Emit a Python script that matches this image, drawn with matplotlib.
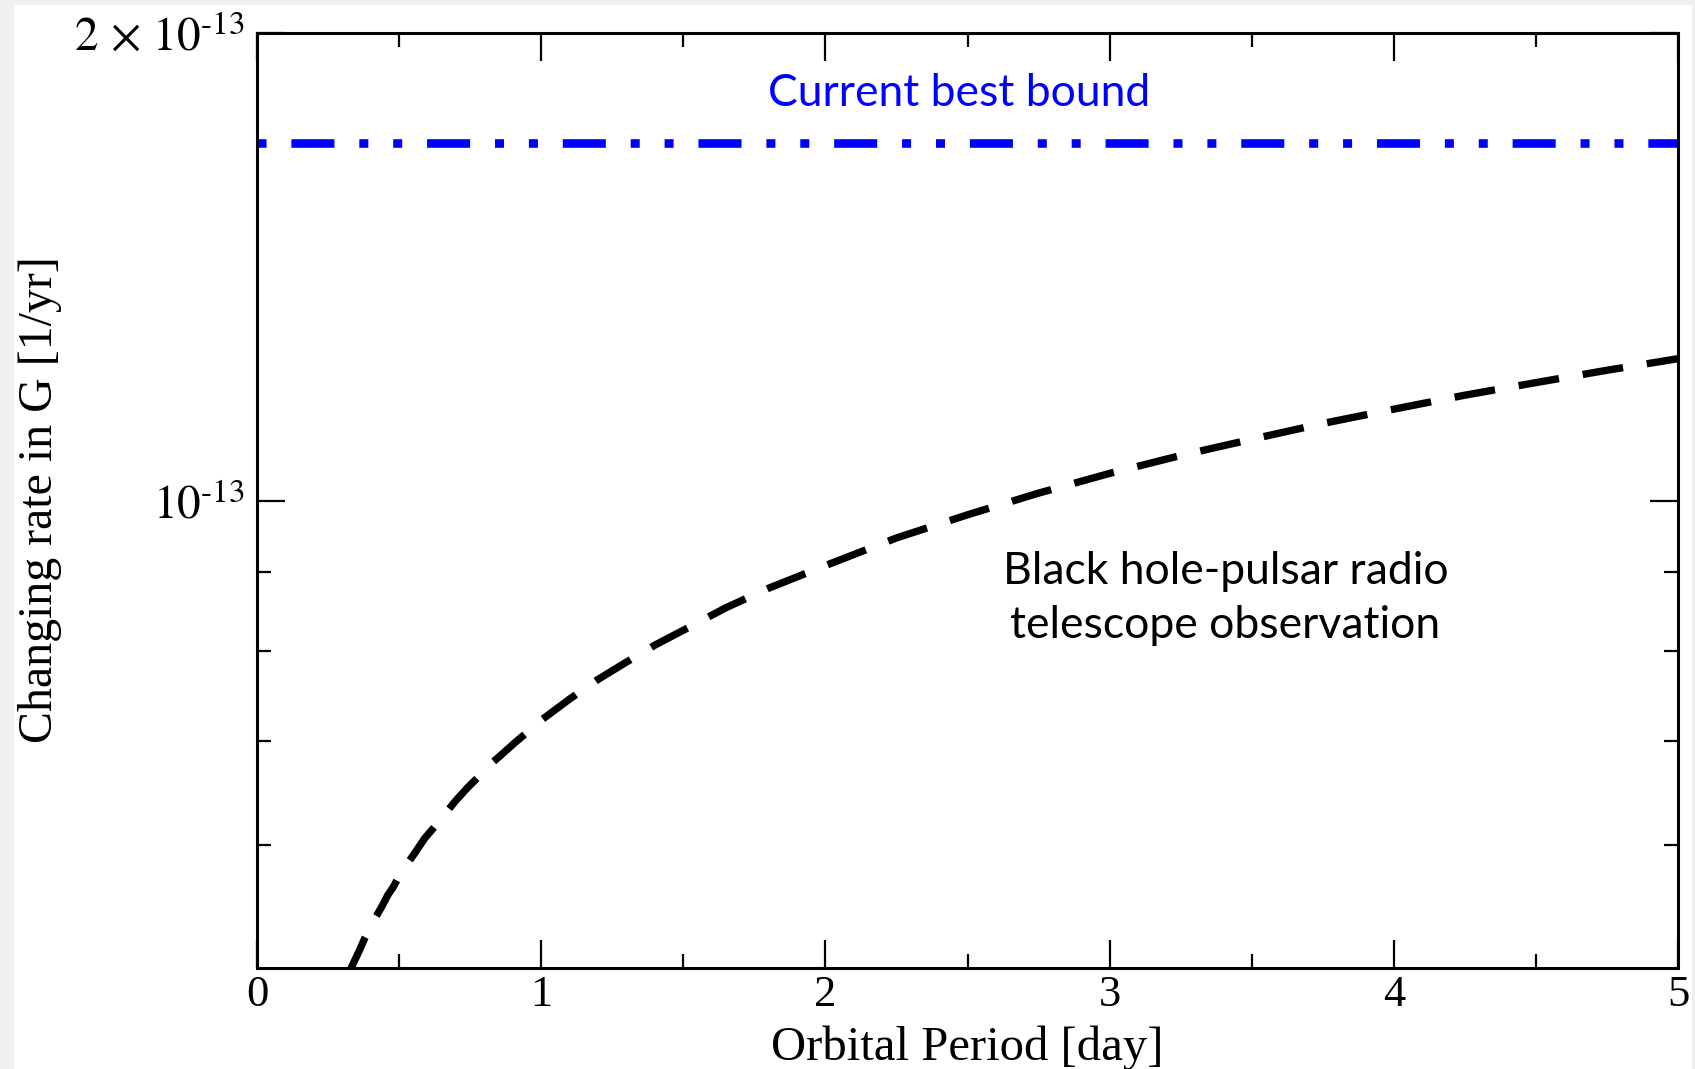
import matplotlib
matplotlib.use('Agg')
import matplotlib.pyplot as plt
from matplotlib.patches import Rectangle
from matplotlib.ticker import NullFormatter

# black hole - pulsar bound on dG/dt vs orbital period
# values
period = [0.327, 0.34, 0.36, 0.38, 0.40, 0.42, 0.44, 0.46, 0.48, 0.50,
          0.53, 0.55, 0.59, 0.62, 0.66, 0.70, 0.74, 0.78, 0.82, 0.86,
          0.91, 0.95, 1.00, 1.10, 1.20, 1.30, 1.40, 1.50, 1.65, 1.80,
          2.00, 2.25, 2.50, 2.75, 3.00, 3.25, 3.50, 3.75, 4.00, 4.25,
          4.50, 4.75, 5.00]
gdot = [4.98e-14, 5.04e-14, 5.13e-14, 5.23e-14, 5.32e-14, 5.40e-14,
        5.48e-14, 5.57e-14, 5.64e-14, 5.73e-14, 5.84e-14, 5.91e-14,
        6.06e-14, 6.15e-14, 6.28e-14, 6.41e-14, 6.53e-14, 6.64e-14,
        6.76e-14, 6.86e-14, 6.99e-14, 7.09e-14, 7.22e-14, 7.45e-14,
        7.67e-14, 7.87e-14, 8.07e-14, 8.25e-14, 8.53e-14, 8.78e-14,
        9.08e-14, 9.46e-14, 9.79e-14, 1.011e-13, 1.041e-13, 1.069e-13,
        1.095e-13, 1.121e-13, 1.145e-13, 1.169e-13, 1.191e-13, 1.213e-13,
        1.234e-13]

best_x = [0.0, 5.0]
best_y = [1.70e-13, 1.70e-13]

xticks = [0, 1, 2, 3, 4, 5]
xminor = [0.5, 1.5, 2.5, 3.5, 4.5]
yticks = [1e-13, 2e-13]
ylabels = [r'$10^{\text{-13}}$', r'$2\,\times\,10^{\text{-13}}$']
yminor = [6e-14, 7e-14, 8e-14, 9e-14]

plt.rcParams['lines.scale_dashes'] = False
plt.rcParams['mathtext.fontset'] = 'stix'
serif = 'Liberation Serif'
sans = 'Lato'

fig = plt.figure(figsize=(16.95, 10.69), dpi=100)
fig.patch.set_facecolor('#f0f0f0')
# white sheet with a thin grey margin, as in the original
fig.patches.append(Rectangle((14/1695, 0), (1692-14)/1695, 1-5/1069,
                             transform=fig.transFigure, facecolor='white',
                             edgecolor='none', zorder=-5))

ax = fig.add_axes([257/1695, 101/1069, 1421/1695, 935/1069])
ax.set_yscale('log')
ax.patch.set_alpha(0)

ax.plot(best_x, best_y, color='#0000ff', lw=6.2,
        linestyle=(0, (6.5, 17.9, 31, 17.9, 6.5, 17.9)), dash_capstyle='butt')
ax.plot(period, gdot, color='black', lw=5.3,
        linestyle=(3, (29.5, 17.3)), dash_capstyle='butt')

ax.set_xlim(0, 5)
ax.set_ylim(5e-14, 2e-13)

ax.set_xticks(xticks)
ax.set_xticklabels([str(t) for t in xticks])
ax.set_xticks(xminor, minor=True)
ax.set_yticks(yticks)
ax.set_yticklabels(ylabels)
ax.set_yticks(yminor, minor=True)
ax.yaxis.set_minor_formatter(NullFormatter())

ax.tick_params(which='both', direction='in', top=True, right=True, width=1.6)
ax.tick_params(which='major', length=20)
ax.tick_params(which='minor', length=10)
ax.tick_params(axis='x', which='major', labelsize=32, pad=5)
ax.tick_params(axis='y', which='major', labelsize=34, pad=9)
for lab in ax.get_xticklabels():
    lab.set_fontfamily(serif)
for s in ax.spines.values():
    s.set_linewidth(2.2)

ax.set_xlabel('Orbital Period [day]', fontsize=35, family=serif)
ax.set_ylabel('Changing rate in G [1/yr]', fontsize=34.5, family=serif)
ax.xaxis.set_label_coords(0.5, -0.061)
ax.yaxis.set_label_coords(-0.137, 0.501)

ax.text(0.494, 0.922, 'Current best bound', transform=ax.transAxes,
        color='#0000ff', fontsize=32, family=sans, ha='center', va='baseline')
ax.text(0.6815, 0.353, 'Black hole-pulsar radio\ntelescope observation',
        transform=ax.transAxes, color='black', fontsize=32, family=sans,
        ha='center', va='baseline', linespacing=1.4)

fig.savefig('out.png', dpi=100, facecolor=fig.get_facecolor())
